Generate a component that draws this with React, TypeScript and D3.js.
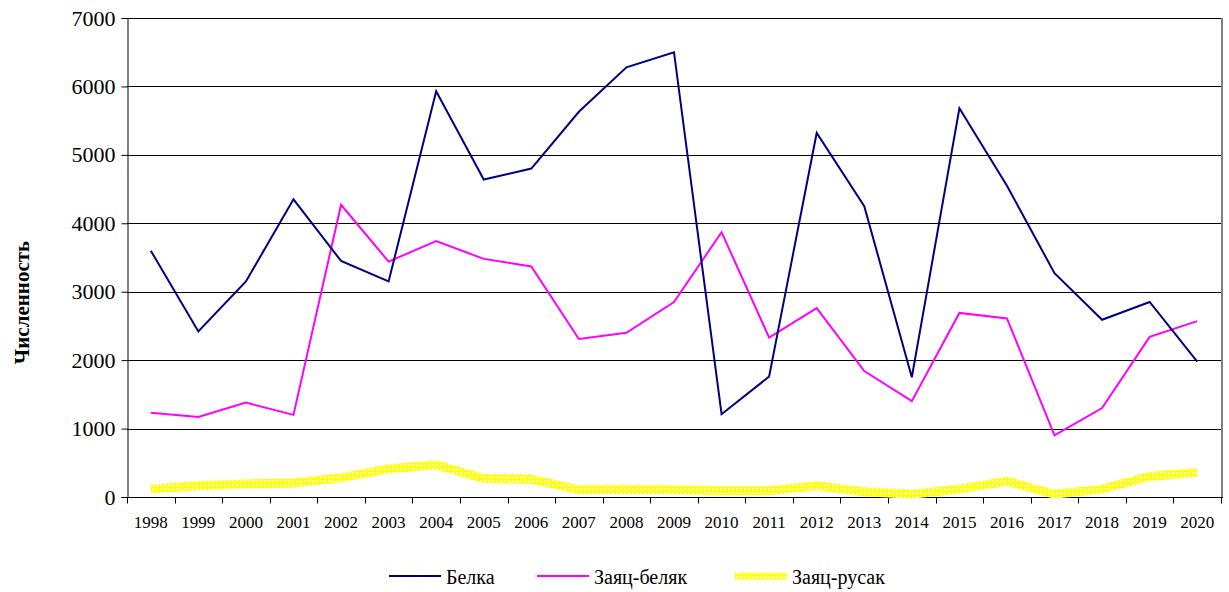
import { useEffect, useRef } from "react";
import * as d3 from "d3";

const years = [
  "1998", "1999", "2000", "2001", "2002", "2003", "2004", "2005", "2006", "2007", "2008", "2009",
  "2010", "2011", "2012", "2013", "2014", "2015", "2016", "2017", "2018", "2019", "2020",
];

const belka = [
  3600, 2420, 3150, 4350, 3450, 3150, 5930, 4640, 4800, 5630, 6280, 6500,
  1210, 1760, 5320, 4250, 1750, 5680, 4550, 3270, 2590, 2850, 1980,
];

const zayacBelyak = [
  1230, 1170, 1380, 1200, 4270, 3440, 3740, 3480, 3370, 2310, 2400, 2850,
  3870, 2330, 2760, 1840, 1400, 2690, 2610, 900, 1300, 2340, 2570,
];

const zayacRusak = [
  115, 165, 190, 205, 280, 410, 470, 270, 260, 105, 115, 105,
  90, 90, 165, 75, 40, 115, 230, 40, 115, 300, 360,
];

const yTicks = [0, 1000, 2000, 3000, 4000, 5000, 6000, 7000];

const seriesList = [
  { name: "Белка", values: belka, color: "#000080", width: 2 },
  { name: "Заяц-беляк", values: zayacBelyak, color: "#ff00ff", width: 2 },
  { name: "Заяц-русак", values: zayacRusak, color: "url(#rusakPattern)", width: 9 },
];

const FONT = "Liberation Serif, Times New Roman, DejaVu Serif, serif";

export default function App() {
  const svgRef = useRef<SVGSVGElement>(null);

  useEffect(() => {
    if (!svgRef.current) return;
    const W = 1229;
    const H = 592;
    const left = 127;
    const right = 1221;
    const top = 18;
    const bottom = 497;

    const svg = d3.select(svgRef.current);
    svg.selectAll("*").remove();
    svg.attr("width", W).attr("height", H).attr("font-family", FONT);

    // checkered yellow fill used for the thick line
    const pat = svg
      .append("defs")
      .append("pattern")
      .attr("id", "rusakPattern")
      .attr("patternUnits", "userSpaceOnUse")
      .attr("width", 4)
      .attr("height", 4);
    pat.append("rect").attr("width", 4).attr("height", 4).attr("fill", "#ffff00").attr("shape-rendering", "crispEdges");
    pat.append("rect").attr("width", 2).attr("height", 2).attr("fill", "#ffffb8").attr("shape-rendering", "crispEdges");
    pat.append("rect").attr("x", 2).attr("y", 2).attr("width", 1).attr("height", 1).attr("fill", "#ffffb8").attr("shape-rendering", "crispEdges");

    const x = d3.scaleBand().domain(years).range([left, right]);
    const y = d3.scaleLinear().domain([0, 7000]).range([bottom, top]);

    // gridlines
    svg
      .append("g")
      .selectAll("line")
      .data(yTicks.slice(1))
      .join("line")
      .attr("x1", left)
      .attr("x2", right)
      .attr("y1", (d) => Math.round(y(d)) + 0.5)
      .attr("y2", (d) => Math.round(y(d)) + 0.5)
      .attr("stroke", "#000")
      .attr("stroke-width", 1);

    // right border
    svg
      .append("line")
      .attr("x1", right + 1)
      .attr("x2", right + 1)
      .attr("y1", top)
      .attr("y2", bottom)
      .attr("stroke", "#808080")
      .attr("stroke-width", 2);

    // y axis
    const yAxis = svg
      .append("g")
      .attr("transform", `translate(${left + 0.5},0)`)
      .call(d3.axisLeft(y).tickValues(yTicks).tickSize(6).tickPadding(6).tickFormat(d3.format("d")));
    yAxis.attr("font-family", FONT);
    yAxis.select(".domain").attr("stroke", "#000");
    yAxis.selectAll("line").attr("stroke", "#000");
    yAxis.selectAll("text").attr("font-size", 22).attr("font-family", FONT).attr("fill", "#000");

    // x axis with ticks at band boundaries
    const xg = svg.append("g").attr("transform", `translate(0,${bottom + 0.5})`);
    xg.append("line").attr("x1", left).attr("x2", right + 2).attr("stroke", "#000");
    xg.selectAll("line.tk")
      .data(d3.range(years.length + 1))
      .join("line")
      .attr("class", "tk")
      .attr("x1", (i) => Math.round(left + i * x.bandwidth()) + 0.5)
      .attr("x2", (i) => Math.round(left + i * x.bandwidth()) + 0.5)
      .attr("y1", 0)
      .attr("y2", 6)
      .attr("stroke", "#000");
    xg.selectAll("text")
      .data(years)
      .join("text")
      .attr("x", (d) => x(d)! + x.bandwidth() / 2)
      .attr("y", 30)
      .attr("text-anchor", "middle")
      .attr("font-family", FONT)
      .attr("font-size", 17)
      .text((d) => d);

    // lines
    const line = d3
      .line<number>()
      .x((_, i) => x(years[i])! + x.bandwidth() / 2)
      .y((d) => y(d));

    [...seriesList].reverse().forEach((s) => {
      svg
        .append("path")
        .datum(s.values)
        .attr("d", line)
        .attr("fill", "none")
        .attr("stroke", s.color)
        .attr("stroke-width", s.width)
        .attr("stroke-linejoin", "miter");
    });

    // axis title
    svg
      .append("text")
      .attr("transform", `translate(29,${(top + bottom) / 2 + 45}) rotate(-90)`)
      .attr("text-anchor", "middle")
      .attr("font-family", FONT)
      .attr("font-size", 21)
      .attr("font-weight", "bold")
      .text("Численность");

    // legend
    const legendX = [389, 537, 735];
    const lg = svg.append("g");
    seriesList.forEach((s, i) => {
      lg.append("line")
        .attr("x1", legendX[i])
        .attr("x2", legendX[i] + 52)
        .attr("y1", 576)
        .attr("y2", 576)
        .attr("stroke", s.color)
        .attr("stroke-width", i === 2 ? 7 : 2);
      lg.append("text")
        .attr("x", legendX[i] + 57)
        .attr("y", 584)
        .attr("font-family", FONT)
        .attr("font-size", 20)
        .text(s.name);
    });
  }, []);

  return (
    <div style={{ position: "absolute", left: 0, top: 0 }}>
      <svg ref={svgRef} style={{ display: "block", background: "#fff" }} />
    </div>
  );
}
